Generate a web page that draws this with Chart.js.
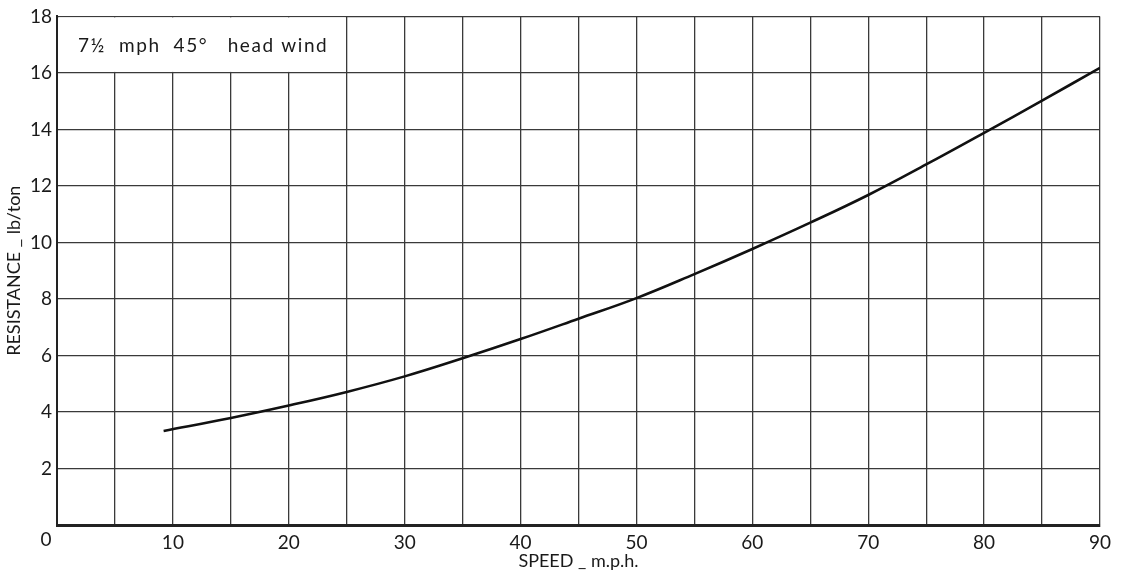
<!DOCTYPE html>
<html>
<head>
<meta charset="utf-8">
<script src="https://cdn.jsdelivr.net/npm/chart.js@4.4.1/dist/chart.umd.min.js"></script>
<style>
  html, body { margin: 0; padding: 0; background: #ffffff; }
  #wrap { width: 1125px; height: 575px; }
</style>
</head>
<body>
<div id="wrap"><canvas id="c" width="1125" height="575"></canvas></div>
<script>
// ---- data ----
const speedMph = [9.2, 15, 20, 25, 30, 35, 40, 45, 50, 55, 60, 65, 70, 75, 80, 85, 90];
const resistanceLbPerTon = [3.33, 3.79, 4.23, 4.71, 5.26, 5.90, 6.58, 7.30, 8.03, 8.88, 9.77, 10.70, 11.68, 12.76, 13.88, 15.02, 16.18];
const xTickLabels = ['10', '20', '30', '40', '50', '60', '70', '80', '90'];
const yTickLabels = ['2', '4', '6', '8', '10', '12', '14', '16', '18'];
const cornerLabel = '0';
const noteText = '7\u00BD  mph  45\u00B0   head wind';
const noteRangeX = [0, 25];
const noteRangeY = [16, 18];
const xTitle = 'SPEED _ m.p.h.';
const yTitle = 'RESISTANCE _ lb/ton';

const FONT = 'Lato, "Open Sans", sans-serif';
const INK = '#1a1a1a';
const GRID = '#3a3a3a';

const notePlugin = {
  id: 'note',
  beforeDatasetsDraw(chart) {
    const { ctx, scales: { x, y } } = chart;
    const l = x.getPixelForValue(noteRangeX[0]) + 2;
    const r = x.getPixelForValue(noteRangeX[1]) - 1;
    const t = y.getPixelForValue(noteRangeY[1]) + 1;
    const b = y.getPixelForValue(noteRangeY[0]) - 1;
    ctx.save();
    ctx.fillStyle = '#ffffff';
    ctx.fillRect(l, t, r - l, b - t);
    ctx.fillStyle = INK;
    ctx.font = '19px ' + FONT;
    ctx.textBaseline = 'middle';
    ctx.textAlign = 'left';
    try { ctx.letterSpacing = '1.6px'; } catch (e) {}
    ctx.fillText(noteText, l + 19, (t + b) / 2 + 1);
    ctx.restore();
  },
  afterDraw(chart) {
    const { ctx, scales: { x, y } } = chart;
    ctx.save();
    ctx.fillStyle = INK;
    ctx.font = '19px ' + FONT;
    ctx.textAlign = 'center';
    ctx.textBaseline = 'middle';
    ctx.fillText(cornerLabel, x.getPixelForValue(0) - 11, y.getPixelForValue(0) + 15);
    ctx.restore();
  }
};

new Chart(document.getElementById('c'), {
  type: 'scatter',
  data: {
    datasets: [{
      label: 'Resistance',
      data: speedMph.map((s, i) => ({ x: s, y: resistanceLbPerTon[i] })),
      showLine: true,
      borderColor: '#111111',
      borderWidth: 2.6,
      pointRadius: 0,
      tension: 0.4,
      fill: false
    }]
  },
  options: {
    responsive: false,
    animation: false,
    devicePixelRatio: 1,
    layout: { padding: { top: 16, right: 25, left: 0, bottom: 0 } },
    plugins: { legend: { display: false }, tooltip: { enabled: false } },
    scales: {
      x: {
        type: 'linear',
        min: 0, max: 90,
        afterFit(scale) { scale.height = 50; },
        ticks: {
          stepSize: 5,
          padding: 6,
          maxRotation: 0,
          autoSkip: false,
          color: INK,
          font: { family: FONT, size: 19 },
          callback(v) { const s = String(v); return xTickLabels.includes(s) ? s : ''; }
        },
        grid: { color: GRID, lineWidth: 1.3, drawTicks: false },
        border: { color: '#222222', width: 3 },
        title: {
          display: true, text: xTitle, color: INK,
          font: { family: FONT, size: 18 },
          padding: { top: 0, bottom: 3 }
        }
      },
      y: {
        type: 'linear',
        min: 0, max: 18,
        afterFit(scale) { scale.width = 57; },
        ticks: {
          stepSize: 2,
          padding: 5,
          color: INK,
          font: { family: FONT, size: 19 },
          callback(v) { const s = String(v); return yTickLabels.includes(s) ? s : ''; }
        },
        grid: { color: GRID, lineWidth: 1.3, drawTicks: false },
        border: { color: '#222222', width: 2 },
        title: {
          display: true, text: yTitle, color: INK,
          font: { family: FONT, size: 18 },
          padding: { top: 3, bottom: 0 }
        }
      }
    }
  },
  plugins: [notePlugin]
});
</script>
</body>
</html>
